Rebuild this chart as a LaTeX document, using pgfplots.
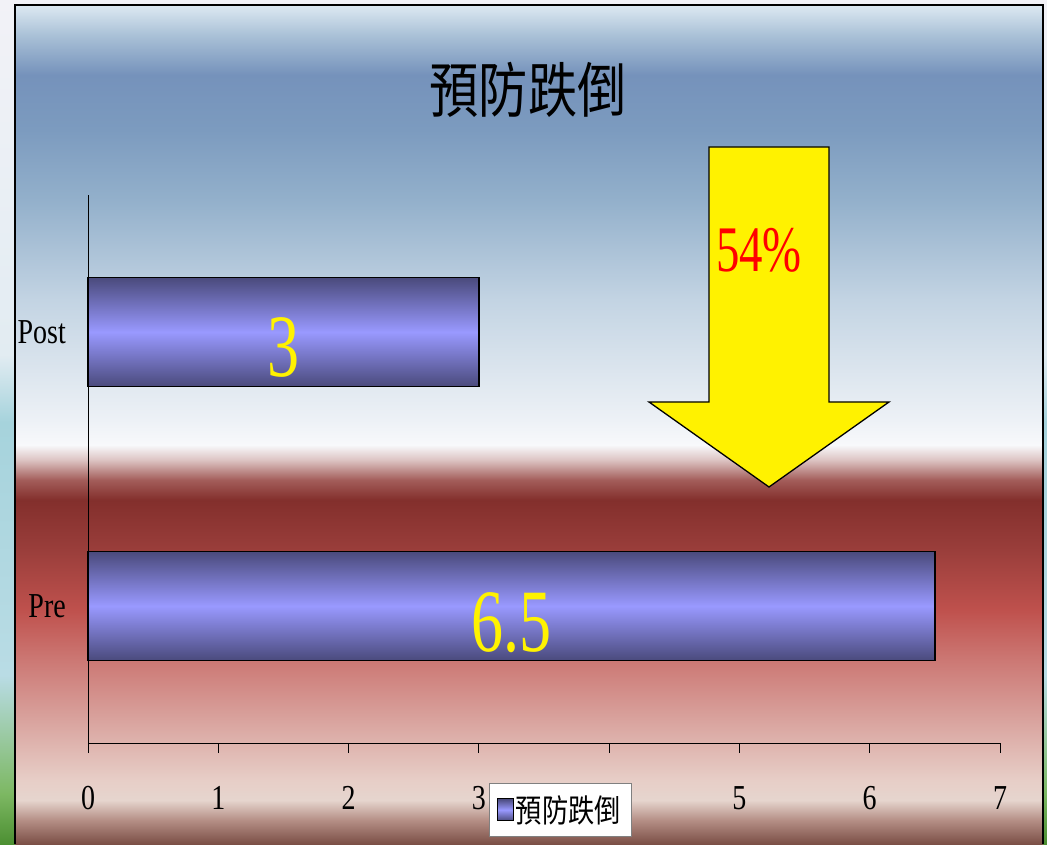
\documentclass[border=0pt]{standalone}
\usepackage{pgfplots}
\pgfplotsset{compat=1.18}
\usepackage{fontspec}
\setmainfont{Liberation Serif}
\newfontfamily\tnr[FakeStretch=0.8]{Liberation Serif}
\newfontfamily\tnrb[FakeStretch=0.72]{Liberation Serif}
\newfontfamily\cjk[FakeStretch=0.82]{Noto Sans CJK TC}
\definecolor{c1}{HTML}{DDE9F2}
\definecolor{c2}{HTML}{AAC1D7}
\definecolor{c3}{HTML}{7592BB}
\definecolor{c4}{HTML}{7C9BBF}
\definecolor{c5}{HTML}{93B0CB}
\definecolor{c6}{HTML}{C3D4E3}
\definecolor{c7}{HTML}{EDF1F6}
\definecolor{c8}{HTML}{F8F9FB}
\definecolor{c9}{HTML}{DCC3C2}
\definecolor{c10}{HTML}{A35D5A}
\definecolor{c11}{HTML}{832F2C}
\definecolor{c12}{HTML}{9A3E3B}
\definecolor{c13}{HTML}{BF514D}
\definecolor{c14}{HTML}{CC7874}
\definecolor{c15}{HTML}{D9A39E}
\definecolor{c16}{HTML}{E7CEC7}
\definecolor{c17}{HTML}{E6D5CE}
\definecolor{c18}{HTML}{B58F86}
\definecolor{c19}{HTML}{7B4F46}
\definecolor{l1}{HTML}{F2F2F7}
\definecolor{l2}{HTML}{E2ECF2}
\definecolor{l3}{HTML}{A6D3DC}
\definecolor{l4}{HTML}{B9DCE5}
\definecolor{l5}{HTML}{7DB863}
\definecolor{l6}{HTML}{4C8F32}
\definecolor{bardark}{HTML}{4A4A7C}
\definecolor{barlight}{HTML}{9999FF}
\pgfdeclareverticalshading{bgshade}{100bp}{%
color(0bp)=(c19); color(25bp)=(c19); color(26.43bp)=(c18); color(27.62bp)=(c17);
color(28.81bp)=(c16); color(32.39bp)=(c15); color(35.96bp)=(c14); color(38.94bp)=(c13);
color(42.52bp)=(c12); color(45.5bp)=(c11); color(46.69bp)=(c10); color(47.88bp)=(c9);
color(48.78bp)=(c8); color(50.27bp)=(c7); color(57.42bp)=(c6); color(63.38bp)=(c5);
color(67.55bp)=(c4); color(70.83bp)=(c3); color(73.21bp)=(c2); color(75bp)=(c1); color(100bp)=(c1)}
\pgfdeclareverticalshading{stripshade}{100bp}{%
color(0bp)=(l6); color(25bp)=(l6); color(28bp)=(l5); color(35bp)=(l4); color(50bp)=(l3);
color(54bp)=(l2); color(75bp)=(l1); color(100bp)=(l1)}
\begin{document}
\begin{tikzpicture}
\useasboundingbox (0,0) rectangle (1047pt,844pt);
\shade[shading=stripshade] (0,0) rectangle (15pt,844pt);
\shade[shading=stripshade] (1043pt,0) rectangle (1047pt,844pt);
\fill[l1] (15pt,839pt) rectangle (1043pt,844pt);
\shade[shading=bgshade] (15pt,0) rectangle (1043pt,839pt);
\draw[black, line width=1.2pt] (15pt,0) -- (15pt,839pt) -- (1043pt,839pt) -- (1043pt,0);
\node[font=\cjk\fontsize{60}{60}\selectfont, anchor=center] at (528pt,754pt) {預防跌倒};
\begin{axis}[
  at={(88pt,101pt)}, anchor=south west,
  scale only axis, width=912pt, height=548pt,
  xbar, bar shift=0pt,
  xmin=0, xmax=7, ymin=-0.5, ymax=1.5,
  axis x line*=bottom, axis y line*=left,
  axis line style={black, line width=0.8pt},
  xtick={0,1,2,3,4,5,6,7}, xticklabels={0,1,2,3,{},5,6,7},
  ytick={0,1}, yticklabels={Pre,Post},
  tick align=outside, major tick length=10pt,
  x tick style={black, line width=0.8pt},
  y tick style={draw=none},
  tick label style={font=\tnr\fontsize{35}{35}\selectfont},
  xticklabel style={anchor=north, inner sep=0pt, yshift=-33pt},
  yticklabel style={anchor=east, inner sep=0pt, xshift=-12pt},
  legend style={at={(axis description cs:0.5175,-0.122)}, anchor=center,
    draw=gray, fill=white, font=\cjk\fontsize{32}{32}\selectfont,
    inner xsep=8pt, inner ysep=10pt},
  legend image code/.code={\draw[#1, draw=black, line width=1pt] (0pt,-11pt) rectangle (16pt,11pt);},
  barstyle/.style={draw=black, line width=1.5pt, bar width=109pt,
    top color=bardark, bottom color=bardark, middle color=barlight},
  clip=false,
]
% Pre
\addplot[barstyle] coordinates {(6.5,0)};
\addlegendentry{預防跌倒}
% Post
\addplot[barstyle, forget plot] coordinates {(3,1)};
\node[text=yellow, font=\tnrb\fontsize{89}{89}\selectfont, anchor=base, yshift=-45pt] at (axis cs:1.5,1) {3};
\node[text=yellow, font=\tnrb\fontsize{89}{89}\selectfont, anchor=base, yshift=-45pt] at (axis cs:3.25,0) {6.5};
\end{axis}
\draw[fill=yellow, line width=1.3pt, line join=miter]
  (709pt,697pt) -- (829pt,697pt) -- (829pt,442pt) -- (889pt,442pt) --
  (769pt,357pt) -- (649pt,442pt) -- (709pt,442pt) -- cycle;
\node[text=red, font=\tnrb\fontsize{65}{65}\selectfont, anchor=base] at (759pt,572pt) {54\%};
\end{tikzpicture}
\end{document}
